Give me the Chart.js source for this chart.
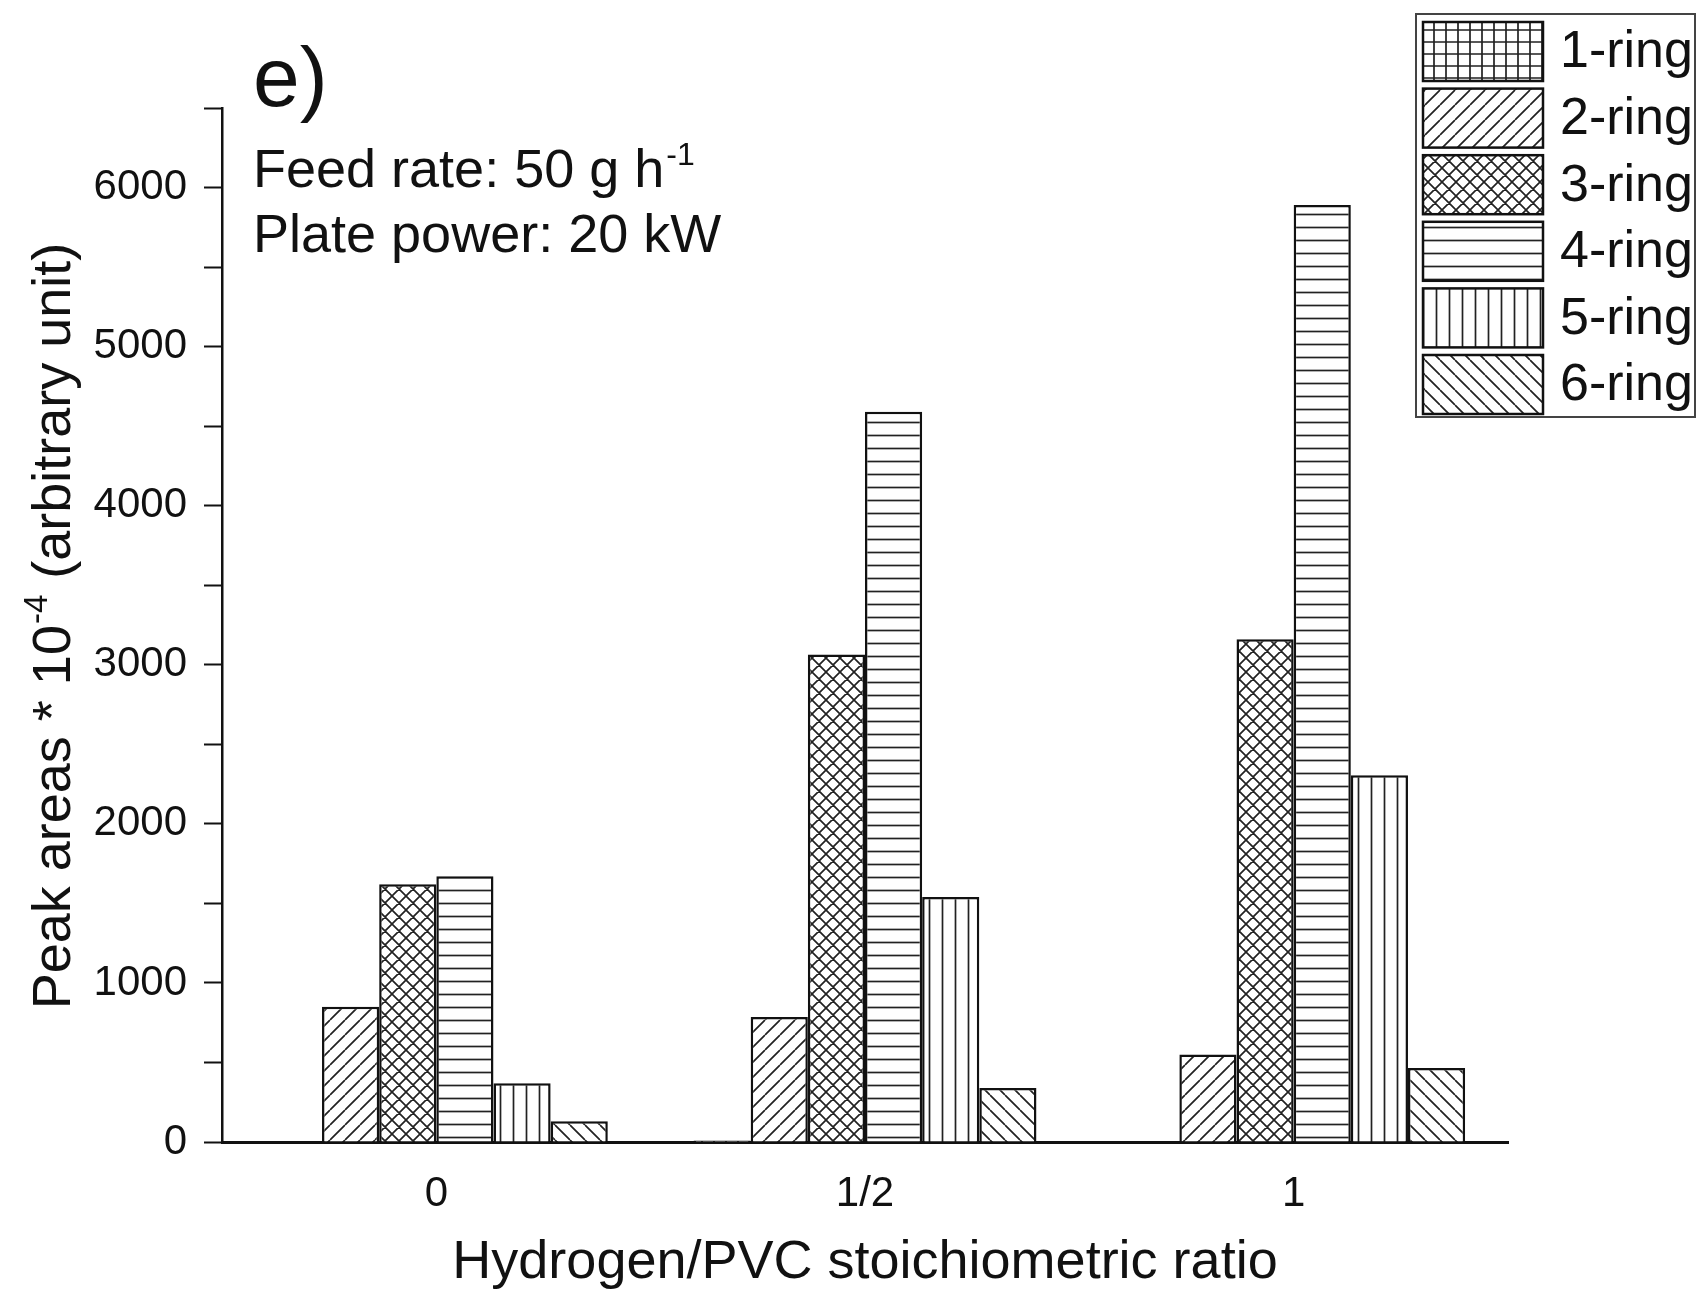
<!DOCTYPE html>
<html lang="en">
<head>
<meta charset="UTF-8">
<title>Peak areas by H2/PVC ratio</title>
<style>
  body { margin: 0; padding: 0; background: #fff; }
  .chartBox { width: 1701px; height: 1293px; }
</style>
</head>
<body>
<div class="chartBox"><canvas id="myChart"></canvas></div>

<script src="https://cdn.jsdelivr.net/npm/chart.js/dist/chart.umd.min.js"></script>
<script>
// data
const ratios = ['0', '1/2', '1'];
const ringNames = ['1-ring', '2-ring', '3-ring', '4-ring', '5-ring', '6-ring'];
const ring1 = [0, 10, 0];
const ring2 = [850, 785, 550];
const ring3 = [1620, 3065, 3160];
const ring4 = [1670, 4590, 5890];
const ring5 = [370, 1540, 2305];
const ring6 = [130, 340, 465];
const yTicks = [0, 1000, 2000, 3000, 4000, 5000, 6000];

const FAMILY = '"Liberation Sans", Arial, sans-serif';
const INK = '#111';

// hatch fills
function hatch(kind, s) {
    const c = document.createElement('canvas');
    c.width = s;
    c.height = s;
    const g = c.getContext('2d');
    g.fillStyle = '#fff';
    g.fillRect(0, 0, s, s);
    g.strokeStyle = '#222';
    g.lineWidth = 1.7;
    g.beginPath();
    if (kind === 'grid' || kind === 'h') {
        g.moveTo(0, s / 2); g.lineTo(s, s / 2);
    }
    if (kind === 'grid' || kind === 'v') {
        g.moveTo(s / 2, 0); g.lineTo(s / 2, s);
    }
    if (kind === 'fwd' || kind === 'cross') {
        for (const k of [-1, 0, 1]) { g.moveTo(k * s, s); g.lineTo(k * s + s, 0); }
    }
    if (kind === 'back' || kind === 'cross') {
        for (const k of [-1, 0, 1]) { g.moveTo(k * s, 0); g.lineTo(k * s + s, s); }
    }
    g.stroke();
    return g.createPattern(c, 'repeat');
}

const fills = [
    hatch('grid', 12),
    hatch('fwd', 15),
    hatch('cross', 14),
    hatch('h', 13),
    hatch('v', 13),
    hatch('back', 15)
];
const series = [ring1, ring2, ring3, ring4, ring5, ring6];

const datasets = series.map((vals, i) => ({
    label: ringNames[i],
    data: vals,
    backgroundColor: fills[i],
    borderColor: INK,
    borderWidth: 2.5,
    barPercentage: 1,
    categoryPercentage: 0.8
}));

// white page, annotations, y title with superscript, boxed legend
const extras = {
    id: 'extras',
    beforeDraw(chart) {
        const ctx = chart.ctx;
        ctx.save();
        ctx.fillStyle = '#fff';
        ctx.fillRect(0, 0, chart.width, chart.height);
        ctx.restore();
    },
    afterDraw(chart) {
        const ctx = chart.ctx;
        ctx.save();
        ctx.fillStyle = INK;
        ctx.textAlign = 'left';
        ctx.textBaseline = 'alphabetic';

        ctx.font = '84px ' + FAMILY;
        ctx.fillText('e)', 253, 106);

        ctx.font = '54px ' + FAMILY;
        ctx.fillText('Feed rate: 50 g h', 253, 187);
        let w = ctx.measureText('Feed rate: 50 g h').width;
        ctx.font = '32px ' + FAMILY;
        ctx.fillText('-1', 253 + w + 2, 165);
        ctx.font = '54px ' + FAMILY;
        ctx.fillText('Plate power: 20 kW', 253, 252);

        // y axis title
        ctx.save();
        ctx.translate(70, 627);
        ctx.rotate(-Math.PI / 2);
        const p1 = 'Peak areas * 10', p2 = '-4', p3 = ' (arbitrary unit)';
        ctx.font = '54px ' + FAMILY;
        const w1 = ctx.measureText(p1).width, w3 = ctx.measureText(p3).width;
        ctx.font = '33px ' + FAMILY;
        const w2 = ctx.measureText(p2).width;
        let x = -(w1 + w2 + w3) / 2;
        ctx.font = '54px ' + FAMILY;
        ctx.fillText(p1, x, 0);
        ctx.font = '33px ' + FAMILY;
        ctx.fillText(p2, x + w1 + 1, -23);
        ctx.font = '54px ' + FAMILY;
        ctx.fillText(p3, x + w1 + w2 + 2, 0);
        ctx.restore();

        // legend
        ctx.fillStyle = '#fff';
        ctx.fillRect(1416, 14, 279, 403);
        ctx.strokeStyle = '#444';
        ctx.lineWidth = 2;
        ctx.strokeRect(1416, 14, 279, 403);
        ctx.font = '52px ' + FAMILY;
        ctx.textBaseline = 'middle';
        for (let i = 0; i < ringNames.length; i++) {
            const y = 22 + i * 66.6;
            ctx.fillStyle = fills[i];
            ctx.fillRect(1423, y, 120, 59);
            ctx.strokeStyle = INK;
            ctx.lineWidth = 2.5;
            ctx.strokeRect(1423, y, 120, 59);
            ctx.fillStyle = INK;
            ctx.fillText(ringNames[i], 1560, y + 31);
        }
        ctx.restore();
    }
};

const config = {
    type: 'bar',
    data: { labels: ratios, datasets: datasets },
    options: {
        responsive: true,
        maintainAspectRatio: false,
        animation: false,
        layout: { padding: { top: 108, right: 193, left: 0, bottom: 0 } },
        plugins: {
            legend: { display: false },
            tooltip: { enabled: false }
        },
        scales: {
            x: {
                grid: { display: false, drawTicks: false },
                border: { color: INK, width: 3 },
                ticks: { color: INK, font: { family: FAMILY, size: 42 }, padding: 27 },
                title: {
                    display: true,
                    text: 'Hydrogen/PVC stoichiometric ratio',
                    color: INK,
                    font: { family: FAMILY, size: 54, lineHeight: 1.1 },
                    padding: { top: 0, bottom: 0 }
                },
                afterFit: (scale) => { scale.height = 151; }
            },
            y: {
                min: 0,
                max: 6500,
                grid: { drawOnChartArea: false, drawTicks: true, tickLength: 18, tickWidth: 2, tickColor: INK },
                border: { color: INK, width: 2.5 },
                ticks: {
                    stepSize: 500,
                    autoSkip: false,
                    color: INK,
                    font: { family: FAMILY, size: 42 },
                    padding: 17,
                    callback: (v) => yTicks.includes(v) ? String(v) : ''
                },
                afterFit: (scale) => { scale.width = 222; }
            }
        }
    },
    plugins: [extras]
};

const myChart = new Chart(document.getElementById('myChart'), config);
</script>
</body>
</html>
